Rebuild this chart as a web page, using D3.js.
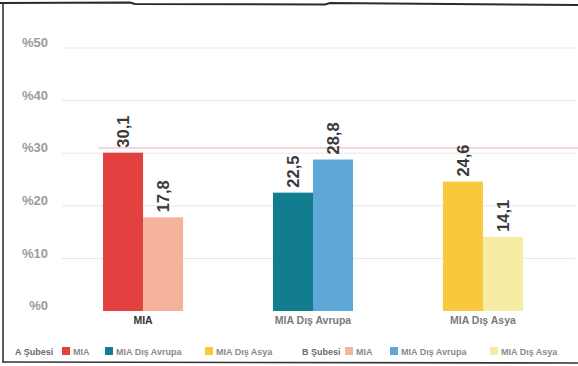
<!DOCTYPE html>
<html>
<head>
<meta charset="utf-8">
<script src="https://cdn.jsdelivr.net/npm/d3@7"></script>
<style>
  html, body { margin: 0; padding: 0; background: #fff; }
  svg { display: block; font-family: "Liberation Sans", Arial, sans-serif; }
</style>
</head>
<body>
<svg id="chart" width="578" height="366"></svg>
<script>
// Categories along the x axis
const categories = ["MIA", "MIA Dış Avrupa", "MIA Dış Asya"];
// One series per class
const seriesNames = ["A Şubesi", "B Şubesi"];
const valuesA = [30.1, 22.5, 24.6];
const valuesB = [17.8, 28.8, 14.1];
// Bar colours: [A, B] for each category
const colorsA = ["#e3413f", "#137d90", "#f8c93c"];
const colorsB = ["#f4b39a", "#5ea8d8", "#f6eca4"];
// Y axis ticks
const yTicks = [0, 10, 20, 30, 40, 50];
// Reference line level
const refLevel = 31;

const svg = d3.select("#chart");

const x0 = d3.scaleBand().domain(categories).range([58, 568])
  .paddingInner(0.529).paddingOuter(0.265);
const x1 = d3.scaleBand().domain([0, 1]).range([0, x0.bandwidth()]);
const y = d3.scaleLinear().domain([0, 50]).range([311, 48]);

// frame
svg.append("path")
  .attr("d", "M0,3 L130,2.5 L135,4 L325,4.5 L330,3 L578,5")
  .attr("fill", "none").attr("stroke", "#2a2a2a").attr("stroke-width", 2);
svg.append("line").attr("x1", 3).attr("x2", 3).attr("y1", 3).attr("y2", 362)
  .attr("stroke", "#333").attr("stroke-width", 1.6);
svg.append("line").attr("x1", 2).attr("x2", 578).attr("y1", 362).attr("y2", 363)
  .attr("stroke", "#333").attr("stroke-width", 1.6);

// gridlines
svg.append("g").selectAll("line").data(yTicks.slice(1)).join("line")
  .attr("x1", 62).attr("x2", 575)
  .attr("y1", d => y(d)).attr("y2", d => y(d))
  .attr("stroke", "#e6e6e6").attr("stroke-width", 1);

// y axis labels
const yAxis = d3.axisLeft(y).tickValues(yTicks).tickSize(0).tickPadding(0)
  .tickFormat(d => "%" + d);
svg.append("g").attr("transform", "translate(48,0)").call(yAxis)
  .call(g => g.select(".domain").remove())
  .selectAll("text")
  .attr("fill", "#9b9b9b").attr("font-size", 13).attr("font-weight", "bold")
  .attr("dy", "-0.1em");

// reference line
svg.append("line").attr("x1", 98).attr("x2", 578)
  .attr("y1", y(refLevel)).attr("y2", y(refLevel))
  .attr("stroke", "#f08a9a").attr("stroke-width", 1).attr("opacity", 0.7);

// bars
const rows = categories.map((c, i) => ({
  cat: c,
  bars: [
    { k: 0, v: valuesA[i], color: colorsA[i] },
    { k: 1, v: valuesB[i], color: colorsB[i] }
  ]
}));

const groups = svg.append("g").selectAll("g").data(rows).join("g")
  .attr("transform", d => `translate(${x0(d.cat)},0)`);

groups.selectAll("rect").data(d => d.bars).join("rect")
  .attr("x", d => x1(d.k)).attr("width", x1.bandwidth())
  .attr("y", d => y(d.v)).attr("height", d => y(0) - y(d.v))
  .attr("fill", d => d.color);

// value labels, rotated
const fmt = v => d3.format(".1f")(v).replace(".", ",");
groups.selectAll("text.val").data(d => d.bars).join("text")
  .attr("class", "val")
  .attr("transform", d => `translate(${x1(d.k) + x1.bandwidth() / 2 + 6},${y(d.v) - 5}) rotate(-90)`)
  .attr("text-anchor", "start")
  .attr("font-size", 16.5).attr("font-weight", "bold").attr("fill", "#3a3a3a")
  .text(d => fmt(d.v));

// category labels
const xAxis = d3.axisBottom(x0).tickSize(0).tickPadding(6);
svg.append("g").attr("transform", `translate(0,${y(0)})`).call(xAxis)
  .call(g => g.select(".domain").remove())
  .selectAll("text")
  .attr("fill", (d, i) => i === 0 ? "#333" : "#7a7a7a")
  .attr("font-size", 10.5).attr("font-weight", "bold");

// legend
const legendItems = [];
[0, 1].forEach(s => {
  legendItems.push({ type: "title", text: seriesNames[s], s });
  categories.forEach((c, i) => legendItems.push({
    type: "item", text: c, color: s === 0 ? colorsA[i] : colorsB[i], s
  }));
});
const legendX = [
  [15, 62, 105, 205],
  [302, 345, 390, 490]
];
const lg = svg.append("g").attr("font-size", 9).attr("font-weight", "bold");
legendItems.forEach((d, idx) => {
  const pos = legendX[d.s][idx % 4];
  if (d.type === "title") {
    lg.append("text").attr("x", pos).attr("y", 355).attr("fill", "#6b6b6b").text(d.text);
  } else {
    lg.append("rect").attr("x", pos).attr("y", 347).attr("width", 8).attr("height", 8)
      .attr("fill", d.color);
    lg.append("text").attr("x", pos + 11).attr("y", 355).attr("fill", "#8a8a8a").text(d.text);
  }
});
</script>
</body>
</html>
